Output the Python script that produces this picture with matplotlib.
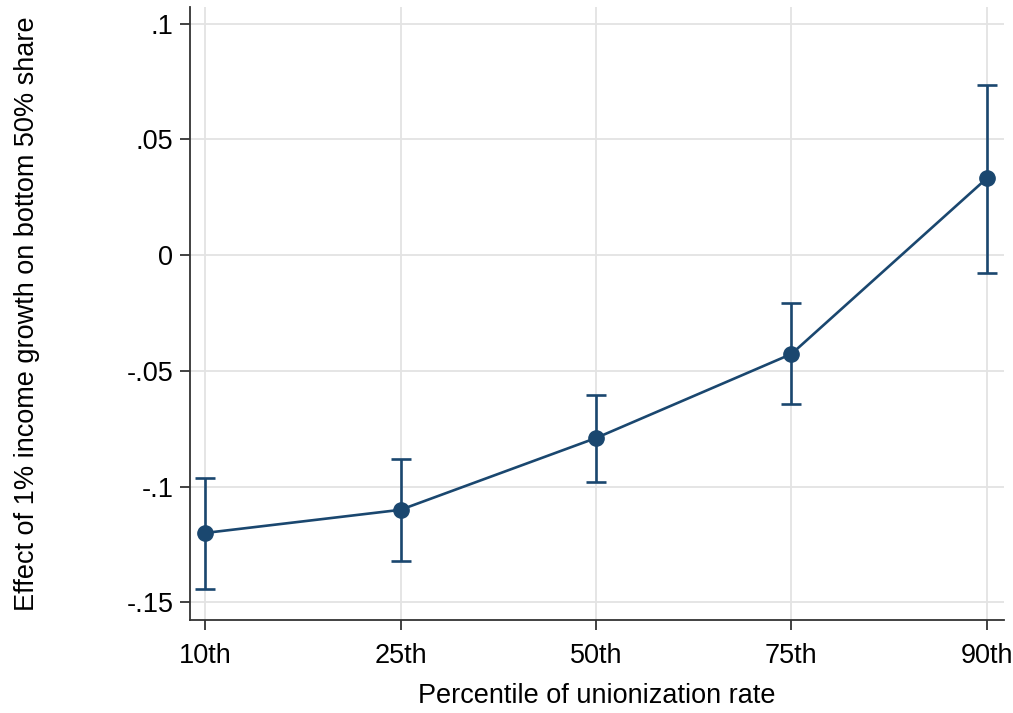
import matplotlib.pyplot as plt

percentiles = ["10th", "25th", "50th", "75th", "90th"]
effect = [-0.120, -0.110, -0.079, -0.0427, 0.0332]
ci_low = [-0.1442, -0.132, -0.098, -0.0643, -0.0078]
ci_high = [-0.0963, -0.088, -0.0605, -0.0207, 0.0734]
yticks = [-0.15, -0.1, -0.05, 0, 0.05, 0.1]
yticklabels = ["-.15", "-.1", "-.05", "0", ".05", ".1"]

plt.rcParams["font.family"] = ["Liberation Sans", "DejaVu Sans"]
navy = "#1a476f"

fig = plt.figure(figsize=(10.13, 7.13), dpi=100)
ax = fig.add_axes([0.1876, 0.1304, 0.8034, 0.8596])

x = list(range(len(percentiles)))
err = [[e - lo for e, lo in zip(effect, ci_low)], [hi - e for e, hi in zip(effect, ci_high)]]
ax.errorbar(x, effect, yerr=err, color=navy, linewidth=1.9, marker="o", markersize=11,
            capsize=7, capthick=1.9, elinewidth=1.9, zorder=3)

ax.set_xlim(-0.077, 4.087)
ax.set_ylim(-0.1576, 0.1071)
ax.set_xticks(x)
ax.set_xticklabels(percentiles)
ax.set_yticks(yticks)
ax.set_yticklabels(yticklabels)
ax.grid(True, color="#e3e3e3", linewidth=1.3)
ax.set_axisbelow(True)
for s in ["top", "right"]:
    ax.spines[s].set_visible(False)
for s in ["left", "bottom"]:
    ax.spines[s].set_linewidth(1.3)
    ax.spines[s].set_color("#333333")
ax.tick_params(labelsize=19.5, length=7.5, width=1.3, color="#333333")
ax.tick_params(axis="x", pad=9)
ax.tick_params(axis="y", pad=4.5)
ax.set_xlabel("Percentile of unionization rate", fontsize=19.5, labelpad=10)
ax.set_ylabel("Effect of 1% income growth on bottom 50% share", fontsize=19.5, labelpad=62)

fig.savefig("out.png", dpi=100)
